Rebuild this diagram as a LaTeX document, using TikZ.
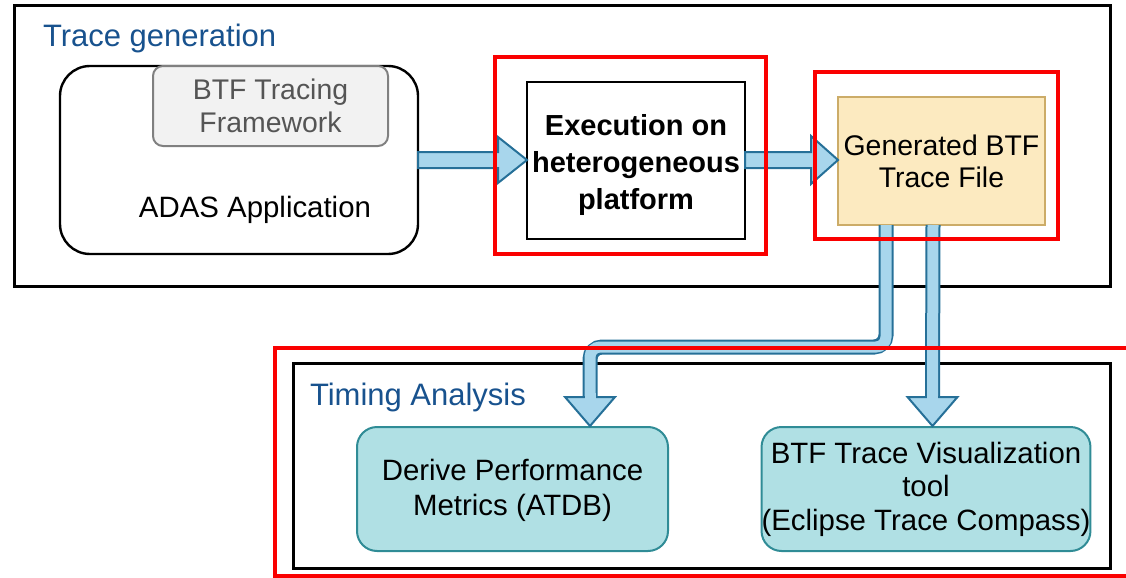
\documentclass[tikz,border=0pt]{standalone}
\usepackage{fontspec}
\setmainfont{Liberation Sans}
\usetikzlibrary{calc}

\definecolor{titleblue}{RGB}{24,82,142}
\definecolor{arrowfill}{RGB}{168,214,236}
\definecolor{arrowline}{RGB}{38,112,152}
\definecolor{tealfill}{RGB}{176,224,228}
\definecolor{tealline}{RGB}{48,140,150}
\definecolor{sandfill}{RGB}{252,234,192}
\definecolor{sandline}{RGB}{204,172,104}
\definecolor{greyfill}{RGB}{242,242,242}
\definecolor{greyline}{RGB}{128,128,128}
\definecolor{greytext}{RGB}{85,85,85}
\definecolor{markred}{RGB}{250,0,0}

\begin{document}
\begin{tikzpicture}[x=0.5pt,y=-0.5pt,
  every node/.style={inner sep=0pt, outer sep=0pt, align=center},
  body/.style={font=\fontsize{14.7}{16.8}\selectfont},
  heading/.style={font=\fontsize{15.5}{18}\selectfont, text=titleblue, anchor=west},
  frame/.style={draw=black, line width=1.5pt},
  redmark/.style={draw=markred, line width=2.2pt},
  stagebox/.style={draw=black, line width=1.2pt},
  appbox/.style={draw=black, line width=1.2pt, rounded corners=15pt},
  libbox/.style={draw=greyline, fill=greyfill, line width=1pt, rounded corners=5pt},
  filebox/.style={draw=sandline, fill=sandfill, line width=1pt},
  toolbox/.style={draw=tealline, fill=tealfill, line width=1pt, rounded corners=10pt},
  fatarrow/.style={draw=arrowline, fill=arrowfill, line width=1pt, line join=miter},
  shaftout/.style={draw=arrowline, line width=7.5pt, rounded corners=6pt},
  shaftin/.style={draw=arrowfill, line width=5.5pt, rounded corners=5pt},
]
\useasboundingbox (0,0) rectangle (1126,578);

% ---- Trace generation stage ----
\node[frame, minimum width=548pt, minimum height=140.5pt] (tg) at (562,145.5) {};
\node[heading] (tgtitle) at (43,38) {Trace generation};

\node[appbox, minimum width=179pt, minimum height=94pt] (adas) at (239,160) {};
\node[libbox, minimum width=117.5pt, minimum height=40pt] (btf) at (270.5,106) {};
\node[body, font=\fontsize{14.2}{16.5}\selectfont, text=greytext] (btftext) at (270.5,106) {BTF Tracing\\Framework};
\node[body] (adastext) at (255,210) {ADAS Application};

\node[stagebox, minimum width=109pt, minimum height=78.5pt] (exec) at (636,160.5) {};
\node[font=\fontsize{14.5}{18.6}\selectfont\bfseries] (exectext) at (636,165)
      {Execution on\\heterogeneous\\platform};

\node[filebox, minimum width=103.5pt, minimum height=64pt, body, font=\fontsize{14.2}{16}\selectfont] (gen) at (941.5,161)
      {Generated BTF\\Trace File};

% ---- Timing analysis stage ----
\node[frame, minimum width=408.5pt, minimum height=102.5pt] (ta) at (701.5,465.5) {};
\node[heading] (tatitle) at (310,397) {Timing Analysis};

\node[toolbox, minimum width=155.5pt, minimum height=62pt] (derive) at (512.5,489) {};
\node[body, font=\fontsize{14.7}{17.5}\selectfont] (derivetext) at (512.5,490)
      {Derive Performance\\Metrics (ATDB)};
\node[toolbox, minimum width=164pt, minimum height=62pt, body] (vis) at (926,489)
      {BTF Trace Visualization\\tool\\(Eclipse Trace Compass)};

% ---- horizontal block arrows ----
\coordinate (a1s) at (adas.east);
\coordinate (a1t) at (exec.west |- adas.east);
\draw[fatarrow] ($(a1s)+(0,-8)$) -- ($(a1t)+(-29,-8)$) -- ($(a1t)+(-29,-23)$) -- (a1t)
  -- ($(a1t)+(-29,23)$) -- ($(a1t)+(-29,8)$) -- ($(a1s)+(0,8)$) -- cycle;

\coordinate (a2s) at (exec.east |- adas.east);
\coordinate (a2t) at (gen.west |- adas.east);
\draw[fatarrow] ($(a2s)+(0,-8)$) -- ($(a2t)+(-27,-8)$) -- ($(a2t)+(-27,-24)$) -- (a2t)
  -- ($(a2t)+(-27,24)$) -- ($(a2t)+(-27,8)$) -- ($(a2s)+(0,8)$) -- cycle;

% ---- downward block arrows ----
\coordinate (d1s) at ($(gen.south)+(-55.5,0)$);
\coordinate (d1t) at ($(derive.north)+(77.5,-1)$);
\coordinate (d1k) at ($(d1s)+(0,122)$);
\draw[shaftout] (d1s) -- (d1k) -| ($(d1t)+(0,-29)$);
\draw[shaftin] (d1s) -- (d1k) -| ($(d1t)+(0,-29)$);
\draw[fatarrow] ($(d1t)+(-25,-29)$) -- ($(d1t)+(25,-29)$) -- (d1t) -- cycle;
\draw[draw=arrowfill, line width=5.5pt] ($(d1t)+(0,-33)$) -- ($(d1t)+(0,-27)$);

\coordinate (d2s) at ($(gen.south)+(-8.5,0)$);
\coordinate (d2t) at ($(vis.north)+(6.5,-1)$);
\draw[shaftout] (d2s) -- ($(d2t)+(0,-29)$);
\draw[shaftin] (d2s) -- ($(d2t)+(0,-29)$);
\draw[fatarrow] ($(d2t)+(-25,-29)$) -- ($(d2t)+(25,-29)$) -- (d2t) -- cycle;
\draw[draw=arrowfill, line width=5.5pt] ($(d2t)+(0,-33)$) -- ($(d2t)+(0,-27)$);

% ---- red highlight frames ----
\node[redmark, minimum width=135.5pt, minimum height=98.5pt] (execmark) at (630.5,155.5) {};
\node[redmark, minimum width=121.5pt, minimum height=83.5pt] (genmark) at (936.5,155.5) {};
\node[redmark, minimum width=430pt, minimum height=114pt] (tamark) at (705,462) {};
\end{tikzpicture}
\end{document}
